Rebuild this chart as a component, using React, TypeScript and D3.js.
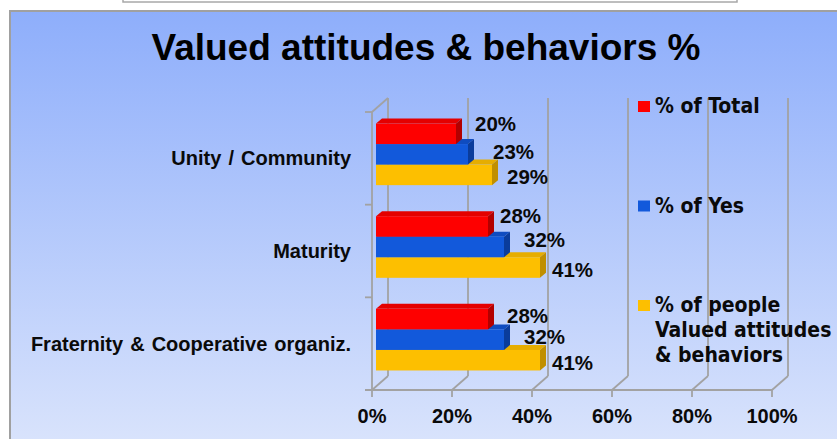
import React from "react";
import * as d3 from "d3";

const categories = ["Unity / Community", "Maturity", "Fraternity & Cooperative organiz."];
const seriesNames = ["% of Total", "% of Yes", "% of people Valued attitudes & behaviors"];
const legendLines = [["% of Total"], ["% of Yes"], ["% of people", "Valued attitudes", "& behaviors"]];
const totalValues = [20, 28, 28];
const yesValues = [23, 32, 32];
const peopleValues = [29, 41, 41];
const xTicks = [0, 20, 40, 60, 80, 100];
const titleText = "Valued attitudes & behaviors %";

// layout / style (not data)
const W = 837, H = 439;
const colors = ["#fe0000", "#1259db", "#fdbf00"];
const sideColors = ["#b30000", "#0a3c9c", "#c08f00"];
const topColors = ["#e40000", "#0f4cc0", "#e6ad00"];
const DEPTH = { dx: 16, dy: -14 };
const BAR_DEPTH = { dx: 6, dy: -5 };
const BAR_SHIFT = { dx: 4, dy: -4 };
// label nudges [category][series] relative to default placement
const labelNudges = [
  [[7, -10], [13, -2], [3, 2.5]],
  [[0, -10], [8, -7], [0, 2.5]],
  [[7, -3.5], [8, -2.5], [0, 3]],
];

export default function App() {
  const seriesValues = [totalValues, yesValues, peopleValues];
  const x = d3.scaleLinear().domain([0, 100]).range([372, 772]);
  const yBand = d3.scaleBand<string>().domain(categories).range([112, 390]).padding(0);
  const bw = yBand.bandwidth();
  const blockH = bw * 0.665;
  const ySub = d3.scaleBand<string>().domain(seriesNames).range([0, blockH]).padding(0);
  const frontTop = 112, frontBottom = 390;
  const grid = "#a2a2a2";
  const font = "'Liberation Sans', Arial, sans-serif";

  const bars: JSX.Element[] = [];
  const labels: JSX.Element[] = [];
  categories.forEach((cat, ci) => {
    const bandTop = (yBand(cat) as number) + (bw - blockH) / 2 + BAR_SHIFT.dy;
    for (let si = seriesNames.length - 1; si >= 0; si--) {
      const v = seriesValues[si][ci];
      const y0 = bandTop + (ySub(seriesNames[si]) as number);
      const h = ySub.bandwidth();
      const x0 = x(0) + BAR_SHIFT.dx;
      const x1 = x(v) + BAR_SHIFT.dx;
      const { dx, dy } = BAR_DEPTH;
      const top = `${x0},${y0} ${x0 + dx},${y0 + dy} ${x1 + dx},${y0 + dy} ${x1},${y0}`;
      const side = `${x1},${y0} ${x1 + dx},${y0 + dy} ${x1 + dx},${y0 + h + dy} ${x1},${y0 + h}`;
      bars.push(
        <g key={`b${ci}-${si}`}>
          <polygon points={top} fill={topColors[si]} />
          <polygon points={side} fill={sideColors[si]} />
          <rect x={x0} y={y0} width={x1 - x0} height={h} fill={colors[si]} />
        </g>
      );
      const [ndx, ndy] = labelNudges[ci][si];
      labels.push(
        <text key={`l${ci}-${si}`} x={x(v) + BAR_SHIFT.dx + 12 + ndx} y={y0 + h / 2 + 7 + ndy}
          fontFamily={font} fontWeight="bold" fontSize={20.5} fill="#0a0a0a">
          {`${v}%`}
        </text>
      );
    }
  });

  return (
    <div style={{ position: "fixed", left: 0, top: 0, width: W, height: H }}>
      <svg width={W} height={H} style={{ display: "block" }}>
        <defs>
          <linearGradient id="bg" x1="0" y1="0" x2="0" y2="1">
            <stop offset="0" stopColor="#8eaefb" />
            <stop offset="1" stopColor="#dae4fc" />
          </linearGradient>
        </defs>
        <rect x={0} y={0} width={W} height={H} fill="#ffffff" />
        <rect x={123} y={-6} width={614} height={8} fill="#ffffff" stroke="#a8a8a8" strokeWidth={1.5} />
        <rect x={10} y={11} width={W + 20} height={H} fill="url(#bg)" stroke="#a0a0a0" strokeWidth={2} />
        <text x={426} y={60} textAnchor="middle" fontFamily={font} fontWeight="bold" fontSize={37} fill="#000">
          {titleText}
        </text>

        {/* back wall gridlines */}
        {xTicks.map((t) => (
          <line key={`g${t}`} x1={x(t) + DEPTH.dx} x2={x(t) + DEPTH.dx}
            y1={frontTop + DEPTH.dy} y2={frontBottom + DEPTH.dy} stroke={grid} strokeWidth={1.8} />
        ))}
        {/* floor diagonals */}
        {xTicks.map((t) => (
          <line key={`d${t}`} x1={x(t)} x2={x(t) + DEPTH.dx} y1={frontBottom} y2={frontBottom + DEPTH.dy}
            stroke={grid} strokeWidth={1.8} />
        ))}
        {/* left wall */}
        <line x1={x(0)} x2={x(0)} y1={frontTop} y2={frontBottom} stroke={grid} strokeWidth={1.8} />
        <line x1={x(0)} x2={x(0) + DEPTH.dx} y1={frontTop} y2={frontTop + DEPTH.dy} stroke={grid} strokeWidth={1.8} />
        {[frontTop, ...categories.map((c) => (yBand(c) as number) + bw)].map((yy, i) => (
          <line key={`ct${i}`} x1={x(0) - 7} x2={x(0)} y1={yy} y2={yy} stroke={grid} strokeWidth={1.8} />
        ))}
        {/* floor front line and ticks */}
        <line x1={x(0) - 7} x2={x(100)} y1={frontBottom} y2={frontBottom} stroke={grid} strokeWidth={1.8} />
        {xTicks.map((t) => (
          <line key={`t${t}`} x1={x(t)} x2={x(t)} y1={frontBottom} y2={frontBottom + 7} stroke={grid} strokeWidth={1.8} />
        ))}
        {xTicks.map((t) => (
          <text key={`tl${t}`} x={x(t)} y={423} textAnchor="middle" fontFamily={font} fontWeight="bold"
            fontSize={20} fill="#0a0a0a">{`${t}%`}</text>
        ))}
        {categories.map((c) => (
          <text key={`cl${c}`} x={351} y={(yBand(c) as number) + bw / 2 + 7} textAnchor="end"
            fontFamily={font} fontWeight="bold" fontSize={20} wordSpacing={1.5} fill="#0a0a0a">{c}</text>
        ))}

        {bars}
        {labels}

        {/* legend */}
        {legendLines.map((lines, i) => {
          const base = 113 + i * 99.5;
          return (
            <g key={`lg${i}`}>
              <rect x={638} y={base - 12} width={12} height={11} fill={colors[i]} />
              {lines.map((ln, j) => (
                <text key={j} x={655} y={base + j * 25} fontFamily="'DejaVu Sans Condensed', 'DejaVu Sans', sans-serif"
                  fontStretch="condensed" fontWeight="bold" fontSize={21} fill="#0a0a0a">{ln}</text>
              ))}
            </g>
          );
        })}
      </svg>
    </div>
  );
}
